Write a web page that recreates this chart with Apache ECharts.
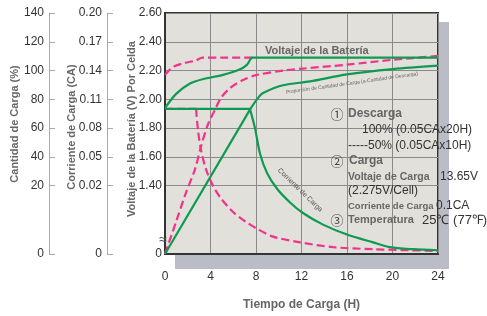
<!DOCTYPE html>
<html>
<head>
<meta charset="utf-8">
<script src="https://cdn.jsdelivr.net/npm/echarts@6/dist/echarts.min.js"></script>
<style>
html, body { margin: 0; padding: 0; background: #fff; }
#chart { width: 487px; height: 316px; }
</style>
</head>
<body>
<div id="chart"></div>
<script>
// tick labels of the three left axes (bottom 0, then the evenly spaced ticks)
var voltLabels = ['0', '1.40', '1.60', '1.80', '2.00', '2.20', '2.40', '2.60'];
var currLabels = ['0', '0.02', '0.05', '0.08', '0.11', '0.14', '0.17', '0.20'];
var pctLabels = ['0', '20', '40', '60', '80', '100', '120', '140'];

// curves, [hours, value]
var voltage100 = [[0, 1.94], [1, 2.04], [2.2, 2.11], [3.3, 2.14], [5.1, 2.17], [6.5, 2.205], [7.2, 2.24], [7.7, 2.29], [9, 2.29], [24, 2.29]];
var voltage50 = [[0, 2.17], [0.7, 2.225], [1.6, 2.25], [2.7, 2.27], [3.3, 2.29], [5, 2.29], [7.7, 2.29]];
var chargeRise100 = [[0, 0], [7.47, 72.9]];
var charge100 = [[7.47, 72.9], [8.18, 81], [8.62, 84.4], [10.37, 89.8], [12.75, 92.5], [16, 97.3], [20.04, 101], [24, 103.4]];
var charge50 = [[0, 0], [0.97, 9.4], [1.85, 18], [2.64, 31.5], [3.16, 47.1], [3.78, 62.7], [4.4, 72.9], [4.92, 81], [5.71, 87.8], [6.86, 93.4], [8, 96.8], [10.37, 100], [12.13, 101.4], [16, 104.1], [20.04, 107.5], [24, 110.2]];
var currentFlat100 = [[0, 0.1], [7.47, 0.1]];
var current100 = [[7.47, 0.1], [7.91, 0.08], [8.35, 0.0536], [8.97, 0.0332], [9.85, 0.0191], [10.99, 0.0151], [12.13, 0.012], [13.89, 0.0086], [16, 0.0057], [18.29, 0.0034], [19.78, 0.002], [21.8, 0.0014], [24, 0.0011]];
var currentFlat50 = [[0, 0.1], [2.73, 0.1]];
var current50 = [[2.73, 0.1], [2.9, 0.078], [3.16, 0.0576], [3.6, 0.0373], [4.22, 0.02], [4.92, 0.0163], [5.98, 0.0123], [7.12, 0.0094], [8.09, 0.0074], [9.49, 0.0051], [11.87, 0.0034], [14.77, 0.002], [18.29, 0.0014], [24, 0.0009]];

// axes are broken: bottom band 0..first tick, then regular steps
var H0 = 70 / 29.5;
var TOP = H0 + 6;
var tickPos = [0];
for (var i = 0; i <= 6; i++) tickPos.push(H0 + i);

function toStep(v, first, step) {
	return v >= first ? H0 + (v - first) / step : v / first * H0;
}
function volt(v) { return toStep(v, 1.4, 0.2); }
function curr(v) { return toStep(v, 0.02, 0.03); }
function pct(v) { return toStep(v, 20, 20); }

var GREEN = '#0f9a52';
var PINK = '#f2338c';
var FONT = '"Liberation Sans", Arial, sans-serif';

function line(data, fn, color, dashed, smooth) {
	return {
		type: 'line',
		data: data.map(function (p) { return [p[0], fn(p[1])]; }),
		showSymbol: false,
		smooth: smooth ? 0.3 : false,
		silent: true,
		lineStyle: { color: color, width: 2.2, type: dashed ? [8, 4] : 'solid' }
	};
}

function leftAxis(labels, offset, main) {
	return {
		type: 'value',
		position: 'left',
		offset: offset,
		min: 0,
		max: TOP,
		axisLine: { show: true, onZero: false, lineStyle: { color: main ? '#333' : '#aaa', width: main ? 2 : 1 } },
		axisTick: { show: !main, inside: true, length: 6, customValues: tickPos, lineStyle: { color: '#aaa' } },
		axisLabel: {
			customValues: tickPos,
			margin: main ? 3 : 5,
			color: '#333',
			fontSize: 12,
			fontFamily: FONT,
			formatter: function (val) {
				for (var k = 0; k < tickPos.length; k++) {
					if (Math.abs(tickPos[k] - val) < 1e-6) return labels[k];
				}
				return '';
			}
		},
		splitLine: main ? { show: true, lineStyle: { color: '#8a8a8a', width: 1 } } : { show: false }
	};
}

function txt(x, y, text, size, opt) {
	opt = opt || {};
	return {
		type: 'text',
		x: x,
		y: y,
		rotation: opt.rot || 0,
		z: 100,
		style: {
			text: text,
			fontSize: size,
			fontWeight: opt.bold ? 'bold' : 'normal',
			fontFamily: opt.family || FONT,
			fill: opt.color || '#333',
			align: opt.align || 'left',
			verticalAlign: 'middle'
		}
	};
}

var chart = echarts.init(document.getElementById('chart'));
var option = {
	animation: false,
	backgroundColor: '#fff',
	grid: {
		left: 165, top: 13, width: 273, height: 247,
		show: true, backgroundColor: '#e2e0da', borderColor: '#333', borderWidth: 2
	},
	xAxis: {
		type: 'value',
		min: 0, max: 24, interval: 4,
		name: 'Tiempo de Carga (H)',
		nameLocation: 'middle',
		nameGap: 45,
		nameTextStyle: { color: '#666', fontSize: 12, fontWeight: 'bold', fontFamily: FONT },
		axisLine: { show: true, onZero: false, lineStyle: { color: '#333', width: 2 } },
		axisTick: { show: false },
		axisLabel: { color: '#333', fontSize: 12, margin: 17, fontFamily: FONT },
		splitLine: { show: true, lineStyle: { color: '#8a8a8a', width: 1 } }
	},
	yAxis: [
		leftAxis(voltLabels, 0, true),
		leftAxis(currLabels, 58, false),
		leftAxis(pctLabels, 116, false)
	],
	series: [
		line(currentFlat50, curr, PINK, true, false),
		line(current50, curr, PINK, true, true),
		line(voltage50, volt, PINK, true, true),
		line(charge50, pct, PINK, true, true),
		line(currentFlat100, curr, GREEN, false, false),
		line(current100, curr, GREEN, false, true),
		line(voltage100, volt, GREEN, false, true),
		line(chargeRise100, pct, GREEN, false, false),
		line(charge100, pct, GREEN, false, true)
	],
	graphic: [
		{ type: 'rect', z: -10, shape: { x: 175, y: 22, width: 274, height: 247 }, style: { fill: '#babdc6' } },
		txt(15, 124, 'Cantidad de Carga (%)', 11, { bold: true, color: '#666', align: 'center', rot: Math.PI / 2 }),
		txt(72, 127, 'Corriente de Carga (CA)', 11, { bold: true, color: '#666', align: 'center', rot: Math.PI / 2 }),
		txt(132, 129, 'Voltaje de la Batería (V) Por Celda', 11, { bold: true, color: '#666', align: 'center', rot: Math.PI / 2 }),
		txt(163, 240, '≈', 14, { color: '#555', align: 'center' }),
		txt(265, 51, 'Voltaje de la Batería', 11, { bold: true, color: '#666' }),
		txt(352, 83, 'Proporción de Cantidad de Carga (a-Cantidad de Descarga)', 5, { color: '#666', align: 'center', rot: 0.14 }),
		txt(300, 190, 'Corriente de Carga', 7, { color: '#555', align: 'center', rot: -44 * Math.PI / 180 }),
		txt(337, 114, '①', 13, { color: '#444', align: 'center', family: '"Noto Sans CJK SC"' }),
		txt(348, 114, 'Descarga', 12, { bold: true, color: '#666' }),
		txt(362, 130, '100% (0.05CAx20H)', 12),
		txt(348, 146, '-----50% (0.05CAx10H)', 12),
		txt(337, 161, '②', 13, { color: '#444', align: 'center', family: '"Noto Sans CJK SC"' }),
		txt(349, 161, 'Carga', 12, { bold: true, color: '#666' }),
		txt(348, 177, 'Voltaje de Carga', 10.5, { bold: true, color: '#666' }),
		txt(440, 177, '13.65V', 12),
		txt(348, 191, '(2.275V/Cell)', 12),
		txt(348, 206, 'Corriente de Carga', 9.5, { bold: true, color: '#666' }),
		txt(436, 206, '0.1CA', 12),
		txt(337, 220, '③', 13, { color: '#444', align: 'center', family: '"Noto Sans CJK SC"' }),
		txt(348, 220, 'Temperatura', 11, { bold: true, color: '#666' }),
		txt(422, 220, '25℃ (77℉)', 13)
	]
};
chart.setOption(option);
</script>
</body>
</html>
